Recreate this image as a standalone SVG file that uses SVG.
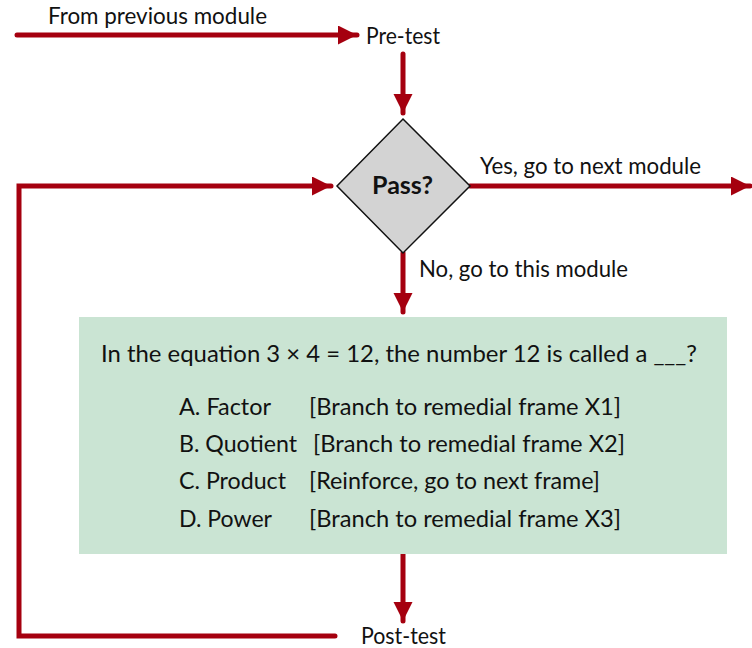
<svg xmlns="http://www.w3.org/2000/svg" width="752" height="648" viewBox="0 0 752 648">
<style>
text{font-family:Lato,"Liberation Sans",sans-serif;font-size:22.5px;fill:#111}
.q{font-size:23.8px}
.c{stroke:#a5000f;stroke-width:5;fill:none;stroke-linecap:round}
.b{font-weight:bold;font-size:24px}
</style>
<defs>
<marker id="ah" markerUnits="userSpaceOnUse" markerWidth="22" markerHeight="22" refX="19" refY="9.5" orient="auto">
<path d="M0,0 L19,9.5 L0,19 z" fill="#a5000f"/>
</marker>
</defs>
<rect width="752" height="648" fill="#fff"/>
<g id="connectors">
<line class="c" x1="17" y1="35" x2="357" y2="35" marker-end="url(#ah)"/>
<line class="c" x1="403" y1="54" x2="403" y2="113" marker-end="url(#ah)"/>
<line class="c" x1="470" y1="186" x2="750" y2="186" marker-end="url(#ah)"/>
<line class="c" x1="403" y1="253" x2="403" y2="312" marker-end="url(#ah)"/>
<line class="c" x1="403" y1="554" x2="403" y2="621" marker-end="url(#ah)"/>
<polyline class="c" points="335,636 19,636 19,186 331,186" marker-end="url(#ah)"/>
</g>
<g id="labels">
<text x="48" y="24" textLength="219" lengthAdjust="spacingAndGlyphs">From previous module</text>
<text x="480" y="174" textLength="221" lengthAdjust="spacingAndGlyphs">Yes, go to next module</text>
<text x="419" y="277" textLength="209" lengthAdjust="spacingAndGlyphs">No, go to this module</text>
</g>
<g id="pretest"><text x="366" y="44" textLength="74" lengthAdjust="spacingAndGlyphs">Pre-test</text></g>
<g id="decision">
<polygon points="403,119 470,186 403,253 337,186" fill="#d3d3d3" stroke="#111" stroke-width="1.5"/>
<text class="b" x="372" y="194" textLength="61" lengthAdjust="spacingAndGlyphs">Pass?</text>
</g>
<g id="frame">
<rect x="79" y="317" width="648" height="237" fill="#cae4d3"/>
<text class="q" x="101" y="362" textLength="596" lengthAdjust="spacingAndGlyphs">In the equation 3 × 4 = 12, the number 12 is called a ___?</text>
<text class="q" x="179" y="415" textLength="92" lengthAdjust="spacingAndGlyphs">A. Factor</text><text class="q" x="309" y="415" textLength="312" lengthAdjust="spacingAndGlyphs">[Branch to remedial frame X1]</text>
<text class="q" x="179" y="452" textLength="118" lengthAdjust="spacingAndGlyphs">B. Quotient</text><text class="q" x="313" y="452" textLength="312" lengthAdjust="spacingAndGlyphs">[Branch to remedial frame X2]</text>
<text class="q" x="179" y="489" textLength="107" lengthAdjust="spacingAndGlyphs">C. Product</text><text class="q" x="309" y="489" textLength="291" lengthAdjust="spacingAndGlyphs">[Reinforce, go to next frame]</text>
<text class="q" x="179" y="527" textLength="93" lengthAdjust="spacingAndGlyphs">D. Power</text><text class="q" x="309" y="527" textLength="312" lengthAdjust="spacingAndGlyphs">[Branch to remedial frame X3]</text>
</g>
<g id="posttest"><text x="361" y="644" textLength="85" lengthAdjust="spacingAndGlyphs">Post-test</text></g>
</svg>
